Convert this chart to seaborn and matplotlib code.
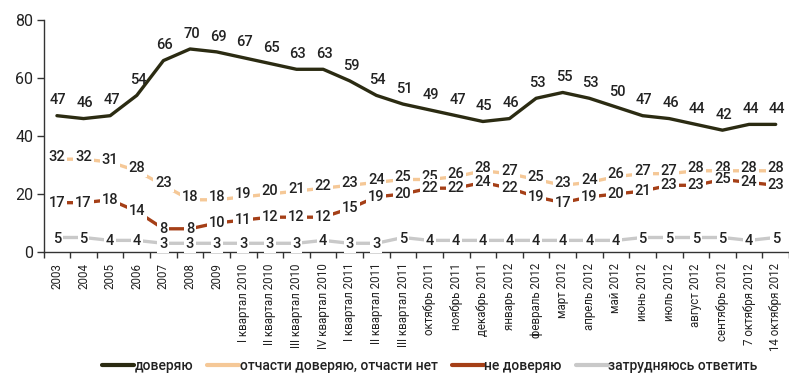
import numpy as np
import pandas as pd
import matplotlib
matplotlib.use("Agg")
import matplotlib.pyplot as plt
from matplotlib.lines import Line2D
import seaborn as sns

periods = [
    "2003", "2004", "2005", "2006", "2007", "2008", "2009",
    "I квартал 2010", "II квартал 2010", "III квартал 2010", "IV квартал 2010",
    "I квартал 2011", "II квартал 2011", "III квартал 2011",
    "октябрь 2011", "ноябрь 2011", "декабрь 2011",
    "январь 2012", "февраль 2012", "март 2012", "апрель 2012", "май 2012",
    "июнь 2012", "июль 2012", "август 2012", "сентябрь 2012",
    "7 октября 2012", "14 октября 2012",
]
trust = [47, 46, 47, 54, 66, 70, 69, 67, 65, 63, 63, 59, 54, 51, 49, 47, 45, 46,
         53, 55, 53, 50, 47, 46, 44, 42, 44, 44]
partly = [32, 32, 31, 28, 23, 18, 18, 19, 20, 21, 22, 23, 24, 25, 25, 26, 28, 27,
          25, 23, 24, 26, 27, 27, 28, 28, 28, 28]
distrust = [17, 17, 18, 14, 8, 8, 10, 11, 12, 12, 12, 15, 19, 20, 22, 22, 24, 22,
            19, 17, 19, 20, 21, 23, 23, 25, 24, 23]
unsure = [5, 5, 4, 4, 3, 3, 3, 3, 3, 3, 4, 3, 3, 5, 4, 4, 4, 4, 4, 4, 4, 4, 5, 5,
          5, 5, 4, 5]

series_names = ["доверяю", "отчасти доверяю, отчасти нет", "не доверяю",
                "затрудняюсь ответить"]
series_colors = ["#2b2b12", "#f5c897", "#a53f17", "#c9c9c9"]

sns.set_theme(style="white")
plt.rcParams["font.family"] = ["Roboto", "DejaVu Sans"]
text_color = "#222222"

pos = np.arange(len(periods))
frames = []
for name, vals in zip(series_names, [trust, partly, distrust, unsure]):
    frames.append(pd.DataFrame({"pos": pos, "value": vals, "series": name}))
long = pd.concat(frames, ignore_index=True)

fig = plt.figure(figsize=(7.89, 3.77), dpi=100)
ax = fig.add_axes([0.0553, 0.3316, 0.9447, 0.6154])

sns.lineplot(data=long, x="pos", y="value", hue="series", hue_order=series_names,
             palette=series_colors, linewidth=2.4, legend=False, sort=False, ax=ax)

# value labels: above the main line, sitting on the other three lines
for i, v in enumerate(trust):
    ax.annotate(str(v), (i, v), xytext=(1, 11), textcoords="offset points",
                ha="center", va="center", fontsize=10.5, fontweight="medium",
                color=text_color, annotation_clip=False)
for vals, dy in ((partly, 1.8), (distrust, 0), (unsure, -0.8)):
    for i, v in enumerate(vals):
        ax.annotate(str(v), (i, v), xytext=(0, dy), textcoords="offset points",
                    ha="center", va="center", fontsize=10.5,
                    fontweight="medium", color=text_color, zorder=5,
                    bbox=dict(boxstyle="square,pad=0.12", fc="white", ec="none"))

ax.set_xlim(-0.5, 27.31)
ax.set_ylim(0, 80)
ax.set_xticks(pos)
ax.set_xticklabels(periods, rotation=90, fontsize=8.3, color=text_color)
ax.set_xticks(np.arange(-0.5, len(periods), 1), minor=True)
ax.tick_params(axis="x", which="major", length=0, pad=8)
ax.tick_params(axis="x", which="minor", length=4, width=1, direction="out",
               color="#333333", bottom=True)
ax.set_yticks([0, 20, 40, 60, 80])
ax.tick_params(axis="y", length=5, width=1, direction="out", color="#333333",
               pad=2.5, labelsize=11.5, labelcolor=text_color, left=True)
ax.set_xlabel("")
ax.set_ylabel("")
for side in ("top", "right"):
    ax.spines[side].set_visible(False)
for side in ("left", "bottom"):
    ax.spines[side].set_color("#333333")
    ax.spines[side].set_linewidth(1)

handles = [Line2D([0], [0], color=c, lw=3) for c in series_colors]
fig.legend(handles, series_names, loc="center", bbox_to_anchor=(0.545, 0.03),
           ncol=4, frameon=False, handlelength=2.3, handletextpad=0.05,
           columnspacing=1.0, labelcolor=text_color,
           prop={"size": 10, "weight": "medium"})

fig.savefig("out.png", dpi=100)
